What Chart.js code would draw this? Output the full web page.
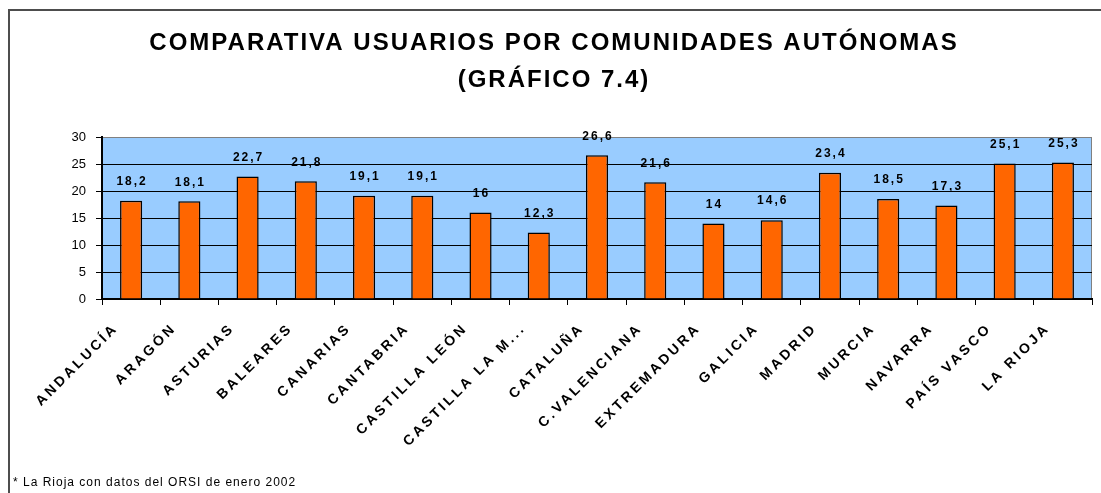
<!DOCTYPE html>
<html>
<head>
<meta charset="utf-8">
<script src="https://cdn.jsdelivr.net/npm/chart.js@4"></script>
<style>
  body { margin: 0; background: #fff; }
  #wrap { position: relative; width: 1101px; height: 493px; }
  #nota { position: absolute; left: 13px; top: 475px; font: 12px "Liberation Sans", Arial, sans-serif; letter-spacing: 1px; color: #000; }
</style>
</head>
<body>
<div id="wrap">
  <canvas id="grafico" width="1101" height="493"></canvas>
  <div id="nota">* La Rioja con datos del ORSI de enero 2002</div>
</div>
<script>
// datos del gráfico 7.4
const comunidades = ['ANDALUCÍA', 'ARAGÓN', 'ASTURIAS', 'BALEARES', 'CANARIAS', 'CANTABRIA', 'CASTILLA LEÓN',
  'CASTILLA LA M...', 'CATALUÑA', 'C.VALENCIANA', 'EXTREMADURA', 'GALICIA', 'MADRID', 'MURCIA', 'NAVARRA',
  'PAÍS VASCO', 'LA RIOJA'];
const usuarios = [18.2, 18.1, 22.7, 21.8, 19.1, 19.1, 16, 12.3, 26.6, 21.6, 14, 14.6, 23.4, 18.5, 17.3, 25.1, 25.3];
const tituloLineas = ['COMPARATIVA USUARIOS POR COMUNIDADES AUTÓNOMAS', '(GRÁFICO 7.4)'];

// eje de categorías con letras espaciadas (como el original)
class SpacedCategoryScale extends Chart.CategoryScale {
    static id = 'spacedCategory';
    static defaults = Chart.CategoryScale.defaults;
    drawLabels(area) {
        const ctx = this.ctx;
        ctx.save();
        ctx.letterSpacing = '3px';
        super.drawLabels(area);
        ctx.restore();
    }
}
Chart.register(SpacedCategoryScale);

const fondoYMarco = {
    id: 'fondoYMarco',
    beforeDraw(chart) {
        const ctx = chart.ctx;
        const a = chart.chartArea;
        ctx.save();
        // marco exterior
        ctx.strokeStyle = '#4d4d4d';
        ctx.lineWidth = 2;
        ctx.beginPath();
        ctx.moveTo(9, 493);
        ctx.lineTo(9, 10);
        ctx.lineTo(1101, 10);
        ctx.stroke();
        // fondo del área de trazado
        ctx.fillStyle = '#99CCFF';
        ctx.fillRect(a.left, a.top, a.right - a.left, a.bottom - a.top);
        ctx.strokeStyle = '#808080';
        ctx.lineWidth = 1;
        ctx.strokeRect(a.left + 0.5, a.top + 0.5, a.right - a.left - 1, a.bottom - a.top);
        ctx.restore();
    },
    afterDraw(chart) {
        const ctx = chart.ctx;
        ctx.save();
        ctx.fillStyle = '#000';
        ctx.textAlign = 'center';
        ctx.textBaseline = 'middle';
        ctx.font = 'bold 24px "Liberation Sans", Arial, sans-serif';
        ctx.letterSpacing = '2px';
        ctx.fillText(tituloLineas[0], 554, 43);
        ctx.fillText(tituloLineas[1], 554, 80);
        ctx.restore();
    }
};

const etiquetasValor = {
    id: 'etiquetasValor',
    afterDatasetsDraw(chart) {
        const ctx = chart.ctx;
        const meta = chart.getDatasetMeta(0);
        ctx.save();
        ctx.fillStyle = '#000';
        ctx.font = 'bold 12px "Liberation Sans", Arial, sans-serif';
        ctx.letterSpacing = '2px';
        ctx.textAlign = 'center';
        ctx.textBaseline = 'middle';
        meta.data.forEach((bar, i) => {
            const txt = String(usuarios[i]).replace('.', ',');
            ctx.fillText(txt, bar.x + 1, bar.y - 19);
        });
        ctx.restore();
    }
};

const ctx = document.getElementById('grafico').getContext('2d');
const grafico = new Chart(ctx, {
    type: 'bar',
    data: {
        labels: comunidades,
        datasets: [{
            label: 'Usuarios',
            data: usuarios,
            backgroundColor: '#FF6600',
            borderColor: '#000',
            borderWidth: 1.5,
            barPercentage: 0.38,
            categoryPercentage: 1
        }]
    },
    options: {
        responsive: false,
        animation: false,
        layout: { padding: { top: 137, left: 0, right: 9, bottom: 0 } },
        plugins: {
            legend: { display: false },
            tooltip: { enabled: false }
        },
        scales: {
            x: {
                type: 'spacedCategory',
                afterFit(scale) { scale.height = 194; },
                grid: { offset: true, drawOnChartArea: false, tickLength: 6, tickColor: '#000' },
                border: { color: '#000', width: 2 },
                ticks: {
                    minRotation: 45,
                    maxRotation: 45,
                    autoSkip: false,
                    padding: 15,
                    labelOffset: -15,
                    color: '#000',
                    font: { family: '"Liberation Sans", Arial, sans-serif', size: 14, weight: 'bold' }
                }
            },
            y: {
                min: 0,
                max: 30,
                afterFit(scale) { scale.width = 102; },
                grid: {
                    color: c => (c.tick && c.tick.value === 30) ? '#808080' : '#000',
                    tickColor: '#000',
                    tickLength: 6,
                    lineWidth: 1
                },
                border: { color: '#000', width: 2 },
                ticks: {
                    stepSize: 5,
                    padding: 10,
                    color: '#000',
                    font: { family: '"Liberation Sans", Arial, sans-serif', size: 13 }
                }
            }
        }
    },
    plugins: [fondoYMarco, etiquetasValor]
});
</script>
</body>
</html>
